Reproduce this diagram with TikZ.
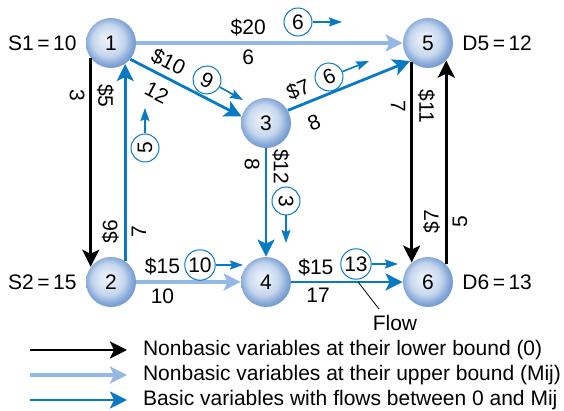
\documentclass[tikz,border=0pt]{standalone}
\usepackage{fontspec}
\setmainfont{Liberation Sans}
\usetikzlibrary{arrows.meta,positioning}

\definecolor{basicblue}{RGB}{8,122,196}
\definecolor{boundblue}{RGB}{148,184,226}
\definecolor{ballhi}{RGB}{238,243,250}
\definecolor{ballmid}{RGB}{196,213,237}
\definecolor{ballrim}{RGB}{136,170,216}
\definecolor{ballrimdark}{RGB}{108,147,205}
\pgfdeclareradialshading{netball}{\pgfpoint{-4bp}{4bp}}{color(0bp)=(ballhi); color(8bp)=(ballhi!60!ballmid); color(16bp)=(ballmid); color(23bp)=(ballrim); color(28bp)=(ballrimdark); color(50bp)=(ballrimdark)}

\begin{document}
\begin{tikzpicture}[x=0.5pt, y=-0.5pt, font=\fontsize{10.5}{12.6}\selectfont,
    stn/.style={circle, minimum size=25pt, inner sep=0pt, shade, shading=netball},
    lowarc/.style={draw=black, line width=1.3pt, -{Stealth[length=8.5pt, width=8.5pt, inset=2pt]}},
    uparc/.style={draw=boundblue, line width=1.6pt, -{Stealth[length=8.5pt, width=8.5pt, inset=2pt]}},
    basarc/.style={draw=basicblue, line width=1.4pt, -{Stealth[length=8.5pt, width=8.5pt, inset=2pt]}},
    flw/.style={circle, draw=basicblue, line width=0.5pt, inner sep=0.5pt, minimum size=14pt},
    flwarr/.style={draw=basicblue, line width=0.8pt, -{Stealth[length=6.5pt, width=4.5pt, inset=1pt]}},
    lbl/.style={inner sep=2.5pt}]
    \useasboundingbox (0,0) rectangle (564,411);

    \node[stn] (n1) at (111,43) {1};
    \node[stn] (n2) at (111,282) {2};
    \node[stn] (n3) at (266,123) {3};
    \node[stn] (n4) at (266,282) {4};
    \node[stn] (n5) at (428,43) {5};
    \node[stn] (n6) at (428,282) {6};

    \node[left=1pt of n1] (s1) {S1\,=\,10};
    \node[left=1pt of n2] (s2) {S2\,=\,15};
    \node[right=1pt of n5] (d5) {D5\,=\,12};
    \node[right=1pt of n6] (d6) {D6\,=\,13};

    \draw[uparc] (n1) -- (n5) node[lbl, pos=0.42, above] {\$20} node[lbl, pos=0.42, below] {6};
    \draw[basarc] (n1.320) -- (n3.165) node[lbl, pos=0.28, sloped, above] {\$10} node[lbl, pos=0.31, sloped, below=2pt] {12};
    \draw[lowarc] (n1.217) -- (n2.143) node[lbl, pos=0.18, rotate=-90, below] {3} node[lbl, pos=0.18, rotate=-90, above] {\$5};
    \draw[basarc] (n2.56) -- (n1.304) node[lbl, pos=0.15, rotate=90, above] {\$6} node[lbl, pos=0.15, rotate=90, below] {7};
    \draw[basarc] (n3.30) -- (n5.225) node[lbl, pos=0.13, sloped, above] {\$7} node[lbl, pos=0.15, sloped, below=3.5pt] {8};
    \draw[basarc] (n3) -- (n4) node[lbl, pos=0.15, rotate=-90, below] {8} node[lbl, pos=0.17, rotate=-90, above] {\$12};
    \draw[uparc] (n2) -- (n4) node[lbl, pos=0.25, above] {\$15} node[lbl, pos=0.25, below] {10};
    \draw[basarc] (n4) -- (n6) node[lbl, pos=0.22, above] {\$15} node[lbl, pos=0.24, below] {17} coordinate[pos=0.6] (c46);
    \draw[lowarc] (n5.230) -- (n6.130) node[lbl, pos=0.22, rotate=-90, below] {7} node[lbl, pos=0.22, rotate=-90, above] {\$11};
    \draw[lowarc] (n6.44) -- (n5.316) node[lbl, pos=0.21, rotate=90, above] {\$7} node[lbl, pos=0.21, rotate=90, below] {5};

    \node[flw] (f15) at (298,22) {6};
    \node[flw, rotate=-25] (f13) at (207,80) {9};
    \node[flw, rotate=90] (f21) at (145,148) {5};
    \node[flw, rotate=22] (f35) at (329,77) {6};
    \node[flw, rotate=-90] (f34) at (286,201) {3};
    \node[flw] (f24) at (200,265) {10};
    \node[flw] (f46) at (356,264) {13};
    \coordinate (t15) at (342,22);
    \coordinate (t13) at (243,100);
    \coordinate (t21) at (145,108);
    \coordinate (t35) at (369,61);
    \coordinate (t34) at (286,243);
    \coordinate (t24) at (243,265);
    \coordinate (t46) at (398,264);
    \draw[flwarr] (f15) -- (t15);
    \draw[flwarr] (f13) -- (t13);
    \draw[flwarr] (f21) -- (t21);
    \draw[flwarr] (f35) -- (t35);
    \draw[flwarr] (f34) -- (t34);
    \draw[flwarr] (f24) -- (t24);
    \draw[flwarr] (f46) -- (t46);

    \node (flowtxt) at (395,323) {Flow};
    \coordinate (flowend) at (379,309);
    \draw[line width=0.4pt] (c46) -- (flowend);

    \coordinate (k1) at (30,350);
    \coordinate (k2) at (30,375);
    \coordinate (k3) at (30,400);
    \node[anchor=west] (l1) at (136,350) {Nonbasic variables at their lower bound (0)};
    \node[anchor=west] (l2) at (136,375) {Nonbasic variables at their upper bound (Mij)};
    \node[anchor=west] (l3) at (136,400) {Basic variables with flows between 0 and Mij};
    \draw[lowarc, shorten >=4.5pt] (k1) -- (l1.west);
    \draw[uparc, shorten >=4.5pt] (k2) -- (l2.west);
    \draw[basarc, shorten >=4.5pt] (k3) -- (l3.west);
\end{tikzpicture}
\end{document}
